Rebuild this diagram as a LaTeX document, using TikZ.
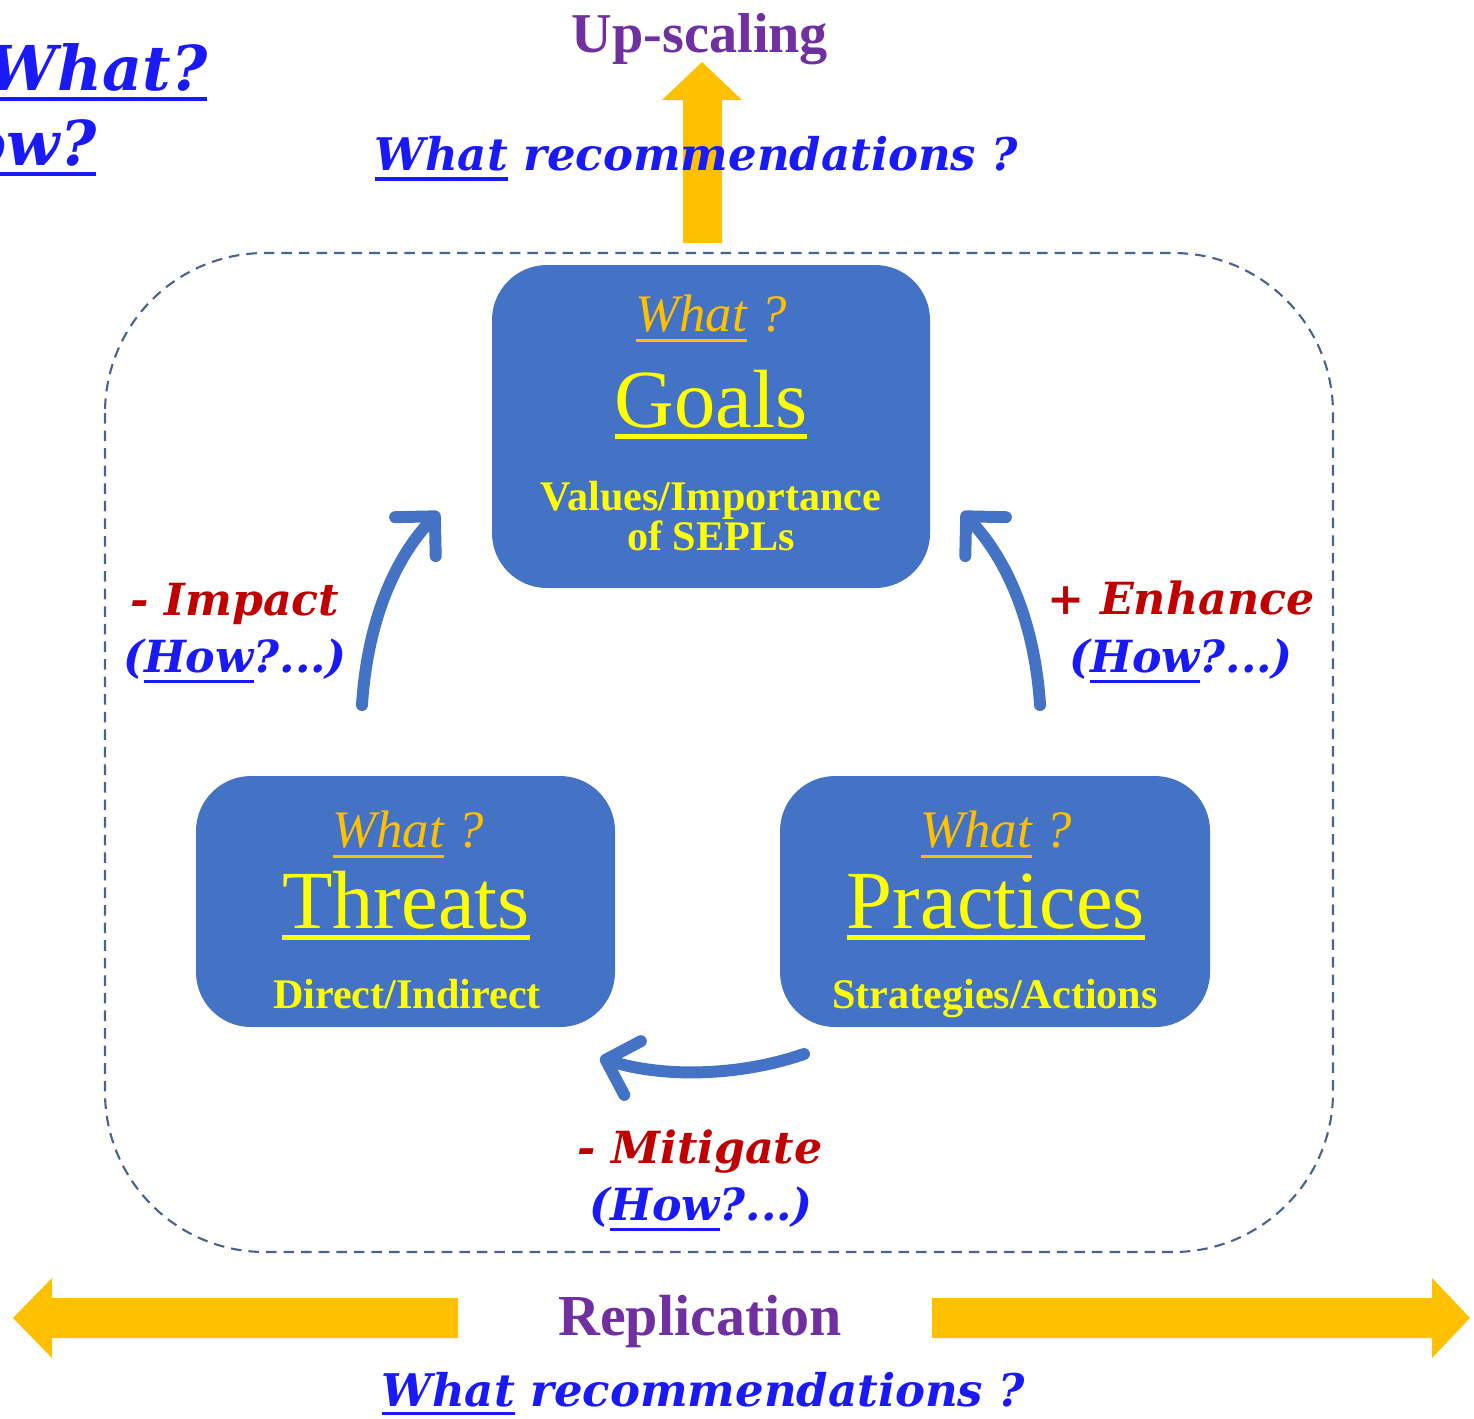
\documentclass[tikz,border=0pt]{standalone}
\usepackage{fontspec}
\setmainfont{Liberation Serif}
\newfontfamily\wideserif{DejaVu Serif}
\usetikzlibrary{arrows.meta}

\definecolor{boxblue}{HTML}{4472C4}
\definecolor{goldarrow}{HTML}{FFC000}
\definecolor{plum}{HTML}{7030A0}
\definecolor{darkred}{HTML}{C00000}
\definecolor{askblue}{HTML}{1A1AF8}
\definecolor{howline}{HTML}{8080FF}
\definecolor{framegray}{HTML}{4A6290}
\definecolor{boxyellow}{HTML}{FFFF00}

% underline with own depth and thickness
\newcommand{\ulbox}[3]{\setbox0=\hbox{#3}\rlap{\rule[-#1]{\wd0}{#2}}\box0\relax}
\newcommand{\fsz}[2]{\fontsize{#1}{#2}\selectfont}
\newcommand{\howpart}{(\begingroup\color{howline}\ulbox{3.2pt}{0.8pt}{\color{askblue}How}\endgroup?...)}
\newcommand{\whatq}{\begingroup\color{goldarrow}\ulbox{3pt}{0.8pt}{What}\endgroup\ ?}

\begin{document}
\begin{tikzpicture}[x=0.1mm, y=-0.1mm,
  box/.style={fill=boxblue, rounded corners=5.5mm, inner sep=0pt},
  boxword/.style={text=boxyellow, font=\fsz{23.5}{26}, anchor=base},
  boxask/.style={text=goldarrow, font=\itshape\fsz{15}{17}, anchor=base},
  boxnote/.style={text=boxyellow, font=\bfseries\fsz{12}{11.3}, anchor=base, align=center},
  actword/.style={text=darkred, font=\wideserif\bfseries\itshape\fsz{12.6}{15}, anchor=base},
  howword/.style={text=askblue, font=\wideserif\bfseries\itshape\fsz{12.6}{15}, anchor=base},
  recword/.style={text=askblue, font=\wideserif\bfseries\itshape\fsz{12.8}{15}, anchor=base west, inner sep=0pt},
  bigask/.style={text=askblue, font=\wideserif\bfseries\itshape\fsz{17.6}{20}, anchor=base east, inner sep=0pt},
  bluearc/.style={draw=boxblue, line width=3.4pt, line cap=round,
    -{Straight Barb[length=8pt, width=16pt, line cap=round, line join=round]}},
  goldblock/.style={fill=goldarrow}]

  \useasboundingbox (0,0) rectangle (1474,1418);

  % frame
  \draw[framegray, line width=0.6pt, dash pattern=on 3pt off 2pt, rounded corners=16mm]
    (105,253) rectangle (1333,1252);

  % up-scaling arrow
  \fill[goldblock] (683,243) -- (683,100) -- (662,100) -- (702,62) -- (742,100)
    -- (722,100) -- (722,243) -- cycle;
  \node (upscale) [text=plum, font=\bfseries\fsz{16}{18}, anchor=base] at (700,52) {Up-scaling};
  \node (toprec) [recword] at (374,170) {\ulbox{3pt}{0.9pt}{What} recommendations ?};

  % corner questions
  \node (cornerwhat) [bigask] at (208,90) {\ulbox{3.1pt}{1pt}{What?}};
  \node (cornerhow) [bigask] at (97,165) {\ulbox{3.1pt}{1pt}{How?}};

  % boxes
  \node (goals) [box, minimum width=43.8mm, minimum height=32.3mm] at (711,426.5) {};
  \node (threats) [box, minimum width=41.9mm, minimum height=25.1mm] at (405.5,901.5) {};
  \node (practices) [box, minimum width=43mm, minimum height=25.1mm] at (995,901.5) {};

  \node (goalsask) [boxask] at (711,331) {\whatq};
  \node (goalsword) [boxword] at (711,427) {\ulbox{3.4pt}{1.3pt}{Goals}};
  \node (goalsnote) [boxnote] at (711,550) {Values/Importance\\of SEPLs};

  \node (threatsask) [boxask] at (408,847) {\whatq};
  \node (threatsword) [boxword] at (406,928) {\ulbox{3.4pt}{1.3pt}{Threats}};
  \node (threatsnote) [boxnote] at (407,1008) {Direct/Indirect};

  \node (practicesask) [boxask] at (996,847) {\whatq};
  \node (practicesword) [boxword] at (996,928) {\ulbox{3.4pt}{1.3pt}{Practices}};
  \node (practicesnote) [boxnote] at (995,1008) {Strategies/Actions};

  % curved links
  \coordinate (impactS) at (362,705);
  \coordinate (impactE) at (439,512);
  \coordinate (enhanceS) at (1040,705);
  \coordinate (enhanceE) at (962,512);
  \coordinate (mitigateS) at (804,1054);
  \coordinate (mitigateE) at (600,1058);
  \draw[bluearc] (impactS) .. controls (367,625) and (393,560) .. (impactE);
  \draw[bluearc] (enhanceS) .. controls (1035,625) and (1008,560) .. (enhanceE);
  \draw[bluearc] (mitigateS) .. controls (740,1076) and (665,1078) .. (mitigateE);

  \node (impact) [actword] at (235,615) {- Impact};
  \node (impacthow) [howword] at (235,672) {\howpart};
  \node (enhance) [actword] at (1181,614) {+ Enhance};
  \node (enhancehow) [howword] at (1181,672) {\howpart};
  \node (mitigate) [actword] at (700,1163) {- Mitigate};
  \node (mitigatehow) [howword] at (701,1220) {\howpart};

  % replication arrows
  \fill[goldblock] (458,1298) -- (52,1298) -- (52,1278) -- (13,1318) -- (52,1358)
    -- (52,1338) -- (458,1338) -- cycle;
  \fill[goldblock] (932,1298) -- (1432,1298) -- (1432,1278) -- (1470,1318) -- (1432,1358)
    -- (1432,1338) -- (932,1338) -- cycle;
  \node (replication) [text=plum, font=\bfseries\fsz{16.5}{18}, anchor=base] at (700,1335) {Replication};
  \node (botrec) [recword] at (381,1406) {\ulbox{2.6pt}{0.9pt}{What} recommendations ?};
\end{tikzpicture}
\end{document}
